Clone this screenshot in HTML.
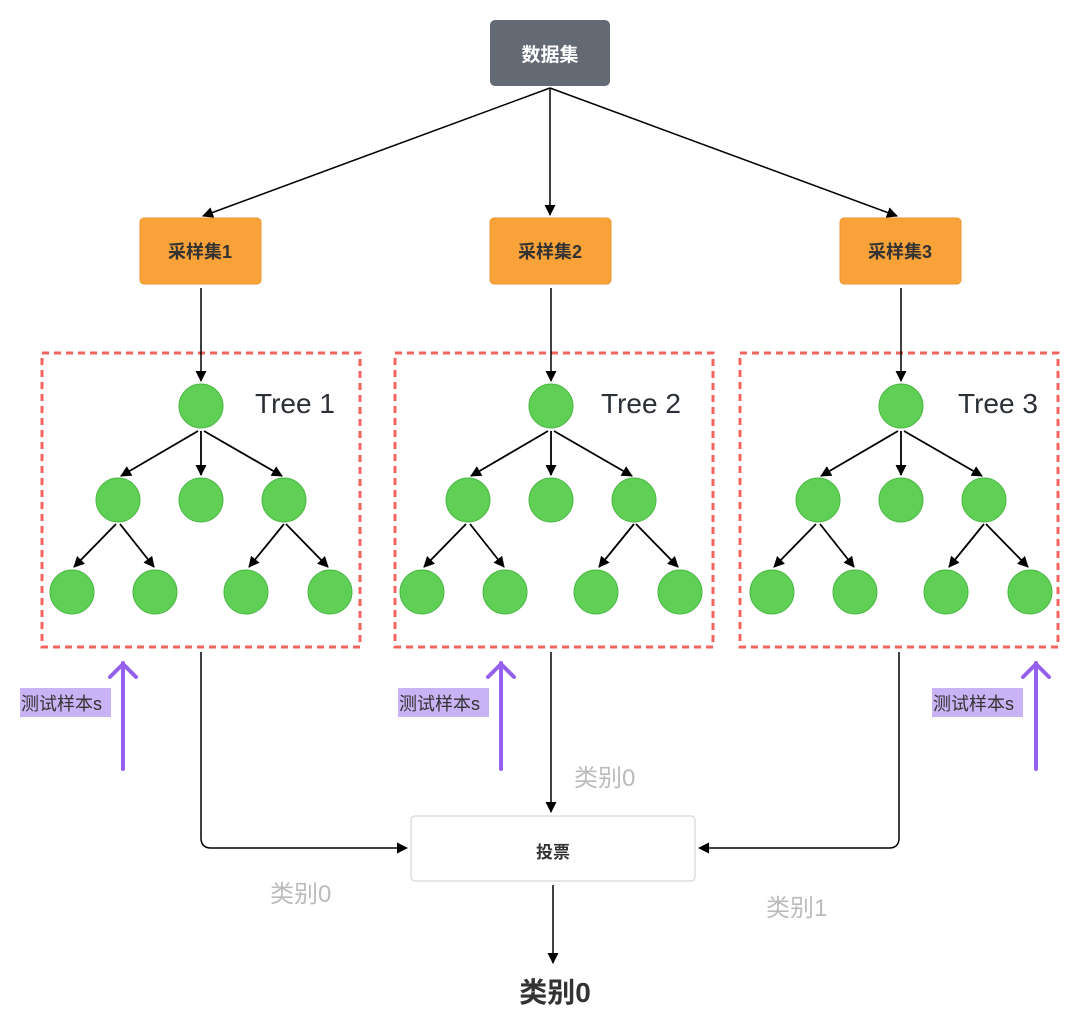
<!DOCTYPE html>
<html><head><meta charset="utf-8"><style>
html,body{margin:0;padding:0;background:#fff;}
svg{display:block;}
text{font-family:"Liberation Sans","Noto Sans CJK SC",sans-serif;}
</style></head><body>
<svg width="1080" height="1032" viewBox="0 0 1080 1032" xmlns="http://www.w3.org/2000/svg">
<defs>
<marker id="a" markerWidth="11" markerHeight="11" refX="10" refY="5.5" orient="auto" markerUnits="userSpaceOnUse" viewBox="0 0 11 11"><path d="M0,0 L11,5.5 L0,11 z" fill="#000"/></marker>
<g id="tree">
  <line x1="201" y1="288" x2="201" y2="381" stroke="#000" stroke-width="1.5" marker-end="url(#a)"/>
  <g stroke="#000" stroke-width="1.8" marker-end="url(#a)">
    <line x1="198" y1="431" x2="121" y2="476"/>
    <line x1="201" y1="431" x2="201" y2="475"/>
    <line x1="204" y1="431" x2="282" y2="476"/>
    <line x1="116" y1="524" x2="74" y2="567"/>
    <line x1="120" y1="524" x2="154" y2="567"/>
    <line x1="284" y1="524" x2="249" y2="567"/>
    <line x1="286" y1="524" x2="328" y2="567"/>
  </g>
  <g fill="#5fcf55" stroke="#4cb845" stroke-width="1">
    <circle cx="201" cy="406" r="22"/>
    <circle cx="118" cy="500" r="22"/><circle cx="201" cy="500" r="22"/><circle cx="284" cy="500" r="22"/>
    <circle cx="72" cy="592" r="22"/><circle cx="155" cy="592" r="22"/><circle cx="246" cy="592" r="22"/><circle cx="330" cy="592" r="22"/>
  </g>
</g>
<rect id="box" x="42" y="353" width="318" height="294" fill="none" stroke="#f4645f" stroke-width="3" stroke-dasharray="7,5"/>
<marker id="p" markerWidth="30" markerHeight="30" refX="15" refY="2" orient="0" markerUnits="userSpaceOnUse" viewBox="0 0 30 30"><path d="M2,16 L15,3 L28,16" fill="none" stroke="#9660ee" stroke-width="4" stroke-linecap="round" stroke-linejoin="round"/></marker>
</defs>

<rect x="490" y="20" width="120" height="66" rx="5" fill="#636a73"/>
<text x="550" y="61" fill="#fff" font-size="19" font-weight="bold" text-anchor="middle">数据集</text>
<g stroke="#000" stroke-width="1.5" marker-end="url(#a)">
  <line x1="550" y1="88" x2="203" y2="216"/>
  <line x1="550" y1="88" x2="550" y2="215"/>
  <line x1="550" y1="88" x2="897" y2="216"/>
</g>
<g fill="#f9a23a" stroke="#eb9530" stroke-width="1">
  <rect x="140" y="218" width="121" height="66" rx="4"/>
  <rect x="490" y="218" width="121" height="66" rx="4"/>
  <rect x="840" y="218" width="121" height="66" rx="4"/>
</g>
<g fill="#333" font-size="18" font-weight="bold" text-anchor="middle">
  <text x="200" y="258">采样集1</text><text x="550" y="258">采样集2</text><text x="900" y="258">采样集3</text>
</g>

<use href="#box"/>
<use href="#box" x="353"/>
<use href="#box" x="698"/>
<use href="#tree"/>
<use href="#tree" x="350"/>
<use href="#tree" x="700"/>
<g fill="#2b2f36" font-size="28">
  <text x="255" y="413">Tree 1</text><text x="601" y="413">Tree 2</text><text x="958" y="413">Tree 3</text>
</g>

<g stroke="#9660ee" stroke-width="4" stroke-linecap="round" marker-start="url(#p)">
  <line x1="123" y1="663" x2="123" y2="769"/>
  <line x1="501" y1="663" x2="501" y2="769"/>
  <line x1="1036" y1="663" x2="1036" y2="769"/>
</g>
<g fill="#c9b3f5">
  <rect x="20" y="688" width="91" height="29"/>
  <rect x="398" y="688" width="91" height="29"/>
  <rect x="932" y="688" width="91" height="29"/>
</g>
<g fill="#333" font-size="18">
  <text x="21" y="710">测试样本s</text><text x="399" y="710">测试样本s</text><text x="933" y="710">测试样本s</text>
</g>

<g fill="none" stroke="#000" stroke-width="1.5">
  <path d="M201,652 V838 Q201,848 211,848 H407" marker-end="url(#a)"/>
  <path d="M899,652 V838 Q899,848 889,848 H699" marker-end="url(#a)"/>
  <line x1="551" y1="652" x2="551" y2="812" marker-end="url(#a)"/>
  <line x1="553" y1="885" x2="553" y2="963" marker-end="url(#a)"/>
</g>
<rect x="411" y="816" width="284" height="65" rx="4" fill="#fff" stroke="#ddd" stroke-width="1.5"/>
<text x="553" y="858" fill="#333" font-size="17" font-weight="bold" text-anchor="middle">投票</text>
<g fill="#bbb" font-size="24">
  <text x="574" y="786">类别0</text><text x="270" y="902">类别0</text><text x="766" y="916">类别1</text>
</g>
<text x="555" y="1002" fill="#333" font-size="28" font-weight="bold" text-anchor="middle">类别0</text>
</svg>
</body></html>
